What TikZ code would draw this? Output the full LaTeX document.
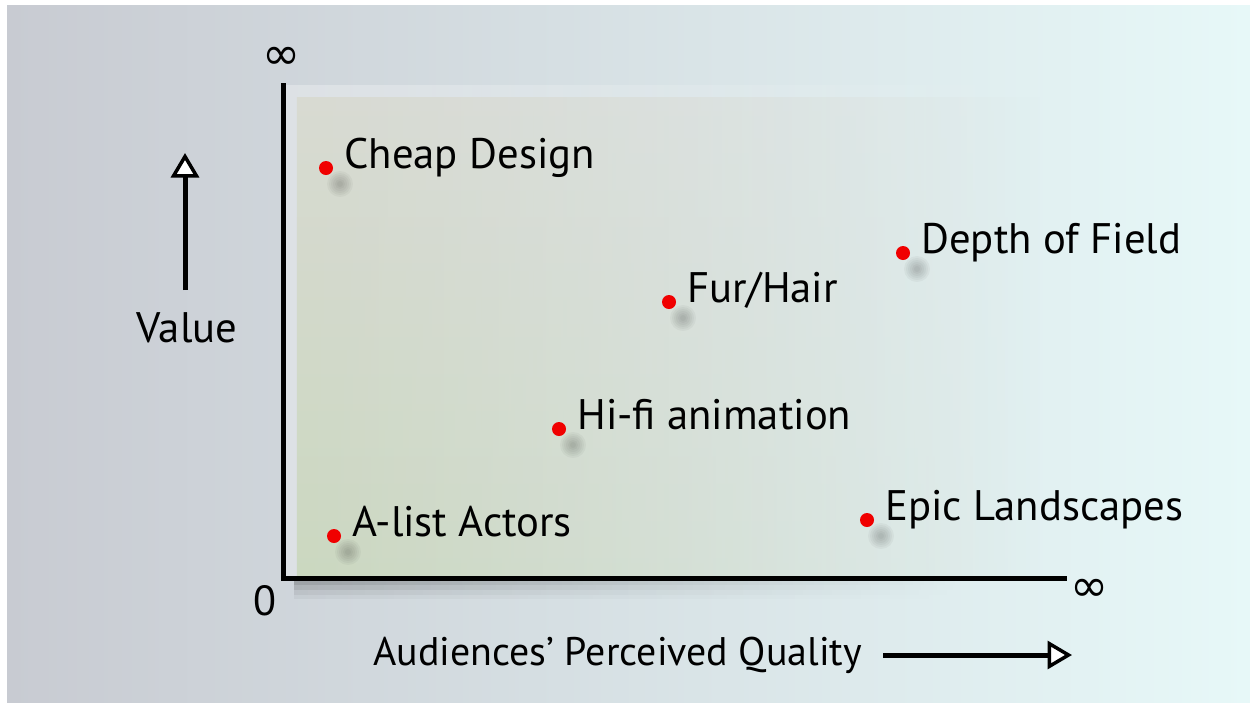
\documentclass[tikz,border=0pt]{standalone}
\usepackage{fontspec}
\setmainfont{PT Sans}
\newfontfamily\symfont{DejaVu Sans}
\usetikzlibrary{arrows.meta,fadings}

\definecolor{bgleft}{RGB}{200,203,210}
\definecolor{bgright}{RGB}{231,248,248}
\definecolor{paneltop}{RGB}{216,218,210}
\definecolor{panelbot}{RGB}{203,216,192}
\definecolor{dotred}{RGB}{240,0,0}

\tikzset{
  reddot/.style={circle, fill=dotred, inner sep=0pt, minimum size=2.8mm},
  lbl/.style={anchor=base west, inner sep=0pt, font=\fontsize{24.3}{28}\selectfont},
  axisline/.style={line width=1mm, line join=miter},
  bigarrow/.style={line width=1mm, -{Triangle[fill=white, line width=0.7mm, length=4.9mm, width=5.6mm]}},
  inf/.style={inner sep=0pt, font=\symfont\fontsize{26}{26}\selectfont},
}

\begin{document}
\begin{tikzpicture}[x=0.2mm, y=-0.2mm]
  \useasboundingbox (0,0) rectangle (1250,702);
  \fill[white] (0,0) rectangle (1250,702);
  \shade[left color=bgleft, right color=bgright] (7,5) rectangle (1250,702);

  % plot panel, fading out to the right
  \fill[white, opacity=0.3, path fading=east] (285,85) rectangle (1060,578);
  \shade[top color=paneltop, bottom color=panelbot, path fading=east] (297,97) rectangle (1040,576);
  % drop shadow below the x axis
  \foreach \ya/\yb/\o in {580/585/.24, 585/590/.16, 590/595/.09, 595/599/.04}
    \fill[black, opacity=\o, path fading=east] (294,\ya) rectangle (960,\yb);

  % axes
  \coordinate (origin) at (283,578);
  \coordinate (ytop) at (283,83);
  \coordinate (xend) at (1067,578);
  \draw[axisline] (ytop) -- (origin) -- (xend);
  \node[inf] (yinf) at (282,58) {∞};
  \node[inf] (xinf) at (1090,590) {∞};
  \node[font=\fontsize{24}{28}\selectfont, inner sep=0pt] (zero) at (265,601) {0};

  % axis titles
  \coordinate (vbot) at (185,290);
  \coordinate (vtop) at (185,153);
  \draw[bigarrow] (vbot) -- (vtop);
  \node[lbl, anchor=base] (value) at (187,342) {Value};

  \node[lbl, font=\fontsize{22.7}{28}\selectfont] (quality) at (373,665) {Audiences’ Perceived Quality};
  \coordinate (qstart) at (883,655);
  \coordinate (qend) at (1072,655);
  \draw[bigarrow] (qstart) -- (qend);

  % data points with their soft shadows
  \foreach \n/\x/\y/\t in {cheap/326/168/{Cheap Design}, depth/903/253/{Depth of Field},
      fur/669/302/{Fur/Hair}, hifi/559/429/{Hi-fi animation},
      alist/334/536/{A-list Actors}, epic/867/520/{Epic Landscapes}}{
    \foreach \r in {13,11,...,3}
      \fill[black, opacity=.035] (\x+14,\y+16) circle (\r);
    \node[reddot] (\n) at (\x,\y) {};
    \node[lbl] (\n-lbl) at (\x+18,\y) {\t};
  }
\end{tikzpicture}
\end{document}
